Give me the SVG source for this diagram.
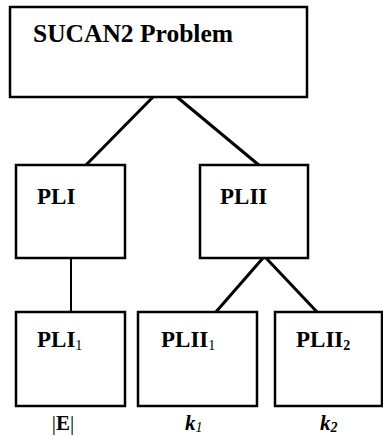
<svg xmlns="http://www.w3.org/2000/svg" width="383" height="436" viewBox="0 0 383 436">
<style>
.box{fill:#fff;stroke:#000;stroke-width:2.5}
.t{font-family:"Liberation Serif","Times New Roman",serif;font-weight:bold;font-size:23px;fill:#000}
.sub{font-size:14px;font-weight:normal}
.lbl{font-family:"Liberation Serif","Times New Roman",serif;font-weight:bold;font-size:21px;fill:#000}
.c{stroke:#000;stroke-width:3;fill:none}
</style>
<rect width="383" height="436" fill="#fff"/>
<g id="connectors">
<line class="c" x1="153" y1="97" x2="85" y2="166"/>
<line class="c" x1="177" y1="97" x2="260" y2="166"/>
<line class="c" x1="71" y1="258" x2="71" y2="313" style="stroke-width:2"/>
<line class="c" x1="263" y1="258" x2="215" y2="313"/>
<line class="c" x1="266" y1="258" x2="318" y2="313"/>
</g>
<g id="sucan2">
<rect class="box" x="10" y="7" width="297" height="90"/>
<text class="t" x="33" y="42" textLength="200" lengthAdjust="spacingAndGlyphs" style="font-size:25px">SUCAN2 Problem</text>
</g>
<g id="pli">
<rect class="box" x="16" y="165" width="109" height="93"/>
<text class="t" x="37" y="204">PLI</text>
</g>
<g id="plii">
<rect class="box" x="200" y="165" width="108" height="93"/>
<text class="t" x="220" y="204">PLII</text>
</g>
<g id="pli1">
<rect class="box" x="16" y="312" width="109" height="94"/>
<text class="t" x="37" y="347">PLI<tspan class="sub" dy="3">1</tspan></text>
<text class="lbl" x="63" y="430" text-anchor="middle" style="font-weight:normal">|<tspan style="font-weight:bold">E</tspan>|</text>
</g>
<g id="plii1">
<rect class="box" x="138" y="312" width="119" height="94"/>
<text class="t" x="161" y="347">PLII<tspan class="sub" dy="3">1</tspan></text>
<text class="lbl" x="185" y="430" style="font-style:italic">k<tspan class="sub" dy="2">1</tspan></text>
</g>
<g id="plii2">
<rect class="box" x="275" y="312" width="107" height="94"/>
<text class="t" x="296" y="347">PLII<tspan class="sub" dy="3" style="font-weight:bold">2</tspan></text>
<text class="lbl" x="320" y="430" style="font-style:italic">k<tspan class="sub" dy="2" style="font-weight:bold">2</tspan></text>
</g>
</svg>
